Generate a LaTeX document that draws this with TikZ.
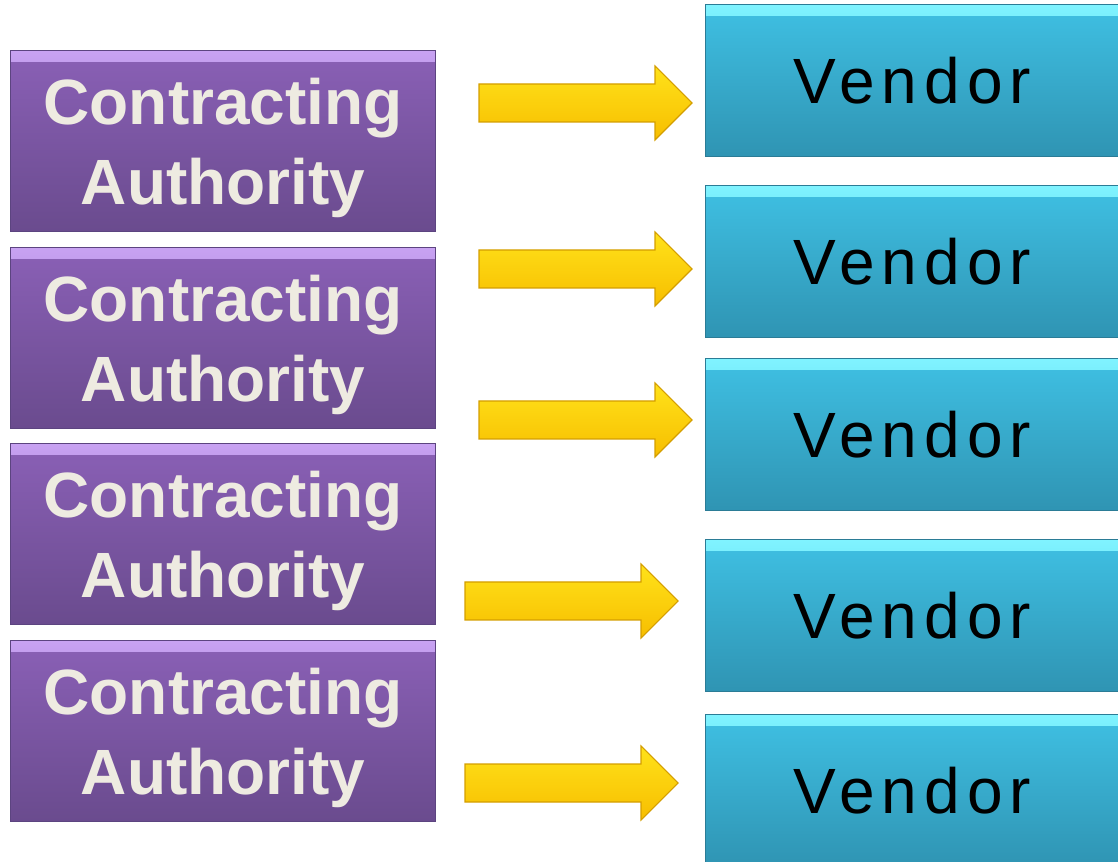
\documentclass[tikz,border=0pt]{standalone}
\usepackage{fontspec}
\setmainfont{Liberation Sans}
\newfontfamily\vendorfont[LetterSpace=11]{Liberation Sans}
\usetikzlibrary{positioning}
\definecolor{catop}{HTML}{8A60B6}
\definecolor{cabot}{HTML}{6A4B8E}
\definecolor{cahi}{HTML}{C8A2F2}
\definecolor{caedge}{HTML}{5C4480}
\definecolor{catext}{HTML}{EEEBE1}
\definecolor{vdtop}{HTML}{3FC0E3}
\definecolor{vdbot}{HTML}{2F94B3}
\definecolor{vdhi}{HTML}{80F3FF}
\definecolor{vdedge}{HTML}{2B7C96}
\definecolor{arrtop}{HTML}{FFE21A}
\definecolor{arrbot}{HTML}{F7BE00}
\definecolor{arredge}{HTML}{D49E00}
\tikzset{authority/.style={rectangle, top color=catop, bottom color=cabot, draw=caedge, line width=1pt, minimum width=318.75pt, minimum height=135.75pt, anchor=north west, align=center, text=catext, text depth=0pt, font=\bfseries\fontsize{48}{60}\selectfont, inner sep=0pt, path picture={\shade[top color=cahi, bottom color=catop] (path picture bounding box.north west) rectangle ([yshift=-8pt]path picture bounding box.north east);}}}
\tikzset{vendor/.style={rectangle, top color=vdtop, bottom color=vdbot, draw=vdedge, line width=1pt, minimum width=309.75pt, minimum height=114pt, anchor=north west, text=black, font=\vendorfont\fontsize{48}{60}\selectfont, inner sep=0pt, path picture={\shade[top color=vdhi, bottom color=vdtop] (path picture bounding box.north west) rectangle ([yshift=-8pt]path picture bounding box.north east);}}}
\tikzset{blockarrow/.style={top color=arrtop, bottom color=arrbot, draw=arredge, line width=0.8pt, line join=miter}}

\begin{document}
\begin{tikzpicture}[x=0.75pt, y=-0.75pt]
\useasboundingbox (0,0) rectangle (1118,862);
% left column
\node[authority] (ca1) at (10,50) {Contracting\\Authority};
\node[authority] (ca2) at (10,247) {Contracting\\Authority};
\node[authority] (ca3) at (10,443) {Contracting\\Authority};
\node[authority] (ca4) at (10,640) {Contracting\\Authority};
% right column
\node[vendor] (v1) at (705,4) {Vendor};
\node[vendor] (v2) at (705,185) {Vendor};
\node[vendor] (v3) at (705,358) {Vendor};
\node[vendor] (v4) at (705,539) {Vendor};
\node[vendor] (v5) at (705,714) {Vendor};
% arrows
\foreach \tx/\ty in {692/103, 692/269, 692/420, 678/601, 678/783}
  \draw[blockarrow] ({\tx-213},{\ty-19}) -- ({\tx-37},{\ty-19}) -- ({\tx-37},{\ty-37}) -- (\tx,\ty) -- ({\tx-37},{\ty+37}) -- ({\tx-37},{\ty+19}) -- ({\tx-213},{\ty+19}) -- cycle;
\end{tikzpicture}
\end{document}
